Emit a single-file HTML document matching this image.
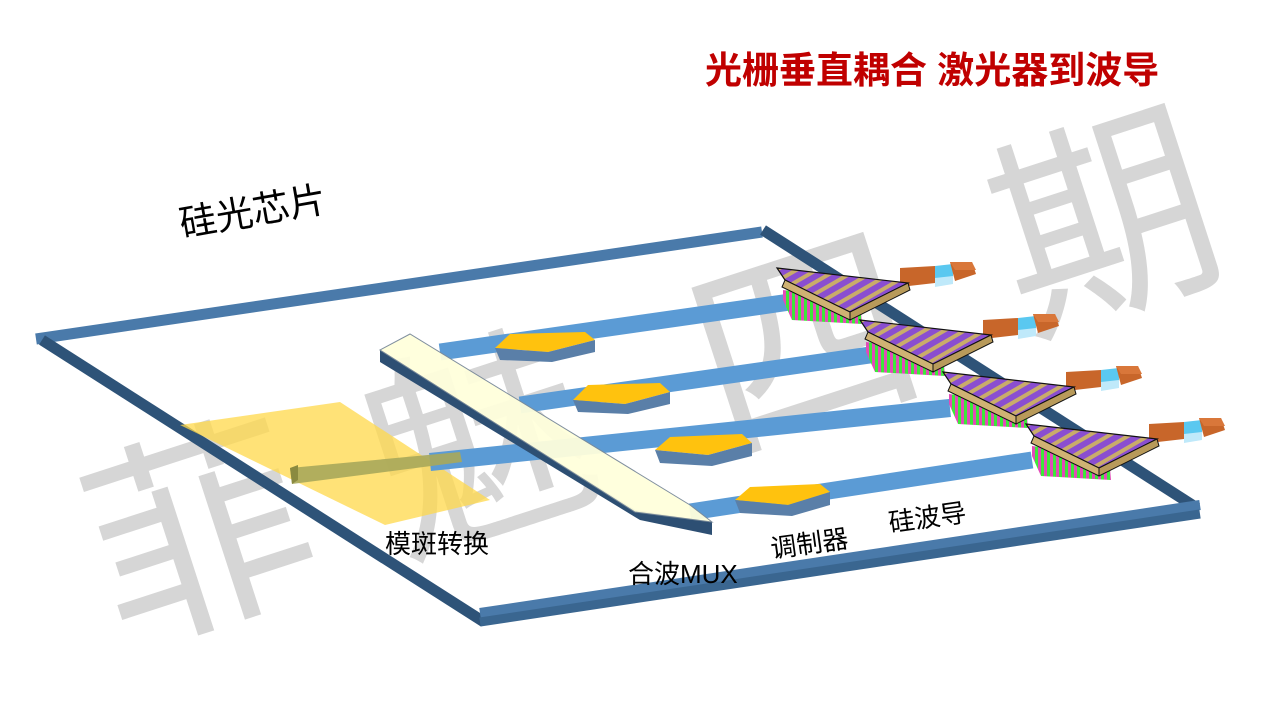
<!DOCTYPE html>
<html><head><meta charset="utf-8"><style>
html,body{margin:0;padding:0;background:#fff;width:1280px;height:720px;overflow:hidden}
svg{display:block}
text{font-family:"Liberation Sans","Noto Sans CJK SC",sans-serif}
</style></head><body>
<svg width="1280" height="720" viewBox="0 0 1280 720" xmlns="http://www.w3.org/2000/svg">
<defs>
<pattern id="stripe" width="6" height="6" patternUnits="userSpaceOnUse"><rect width="6" height="6" fill="#e24bb8"/><rect width="3" height="6" fill="#3de83a"/></pattern>
<pattern id="grate" width="10" height="10" patternUnits="userSpaceOnUse" patternTransform="rotate(60)"><rect width="10" height="10" fill="#8a4ed0"/><rect width="4" height="10" fill="#c9ac6a"/></pattern>
<g id="unit">
  <polygon points="783,290 860,300 862,324 792,320 783,300" fill="url(#stripe)"/>
  <polygon points="900,268 935,266 935,283 900,287" fill="#c8662a"/>
  <polygon points="935,266 953,264 953,280 935,283" fill="#5ac8f0"/>
  <polygon points="935,278 953,276 953,284 935,287" fill="#bfe9fa"/>
  <polygon points="950,262 972,262 976,274 955,281" fill="#c8662a"/>
  <polygon points="950,262 972,262 976,270 955,270" fill="#d9773a"/>
  <polygon points="777,268 908,283 850,312 785,280" fill="url(#grate)" stroke="#111" stroke-width="1.2"/>
  <polygon points="785,280 850,312 850,320 782,287" fill="#cfb273" stroke="#111" stroke-width="1"/>
  <polygon points="908,283 910,290 850,320 850,312" fill="#b89a5a" stroke="#111" stroke-width="1"/>
</g>
</defs>
<!-- watermark -->
<g fill="#d6d6d6" font-size="220" font-family="Liberation Sans,Noto Sans CJK SC,sans-serif">
<text x="85" y="615" transform="rotate(-18 190 520)">菲</text>
<text x="365" y="525" transform="rotate(-18 470 430)">魅</text>
<text x="690" y="425" transform="rotate(-18 790 330)">四</text>
<text x="990" y="305" transform="rotate(-18 1090 210)">期</text>
</g>
<!-- frame -->
<line x1="36" y1="339" x2="762" y2="232" stroke="#4a7aaa" stroke-width="11"/>
<line x1="42" y1="340" x2="484" y2="622" stroke="#2e5378" stroke-width="11"/>
<line x1="763" y1="230" x2="1197" y2="508" stroke="#2e5378" stroke-width="11"/>
<line x1="480" y1="613" x2="1200" y2="505" stroke="#4a7aaa" stroke-width="10"/>
<line x1="480" y1="622" x2="1200" y2="514" stroke="#3a6690" stroke-width="9"/>
<!-- mode converter -->
<polygon points="180,425 340,402 490,500 385,525" fill="#ffd84a" opacity="0.75"/>
<!-- waveguides -->
<g stroke-linecap="butt">
<line x1="440" y1="352" x2="790" y2="302" stroke="#5b9bd5" stroke-width="17"/>
<line x1="520" y1="405" x2="870" y2="355" stroke="#5b9bd5" stroke-width="17"/>
<line x1="430" y1="462" x2="950" y2="408" stroke="#5b9bd5" stroke-width="18"/>
<line x1="690" y1="512" x2="1032" y2="460" stroke="#5b9bd5" stroke-width="17"/>
</g>
<polygon points="290,468 460,452 462,462 292,484" fill="#a8a85a" opacity="0.9"/>
<polygon points="290,468 298,465 298,480 292,484" fill="#8a8a40"/>
<!-- modulators -->
<g>
<polygon points="495,348 510,334 585,332 595,340 548,352" fill="#ffc20e"/><polygon points="495,348 548,352 595,340 595,352 552,362 500,360" fill="#5a7fa8"/>
<polygon points="573,400 588,385 660,383 670,392 625,404" fill="#ffc20e"/><polygon points="573,400 625,404 670,392 670,404 628,414 578,412" fill="#5a7fa8"/>
<polygon points="655,450 670,437 742,434 752,443 708,455" fill="#ffc20e"/><polygon points="655,450 708,455 752,443 752,456 712,466 660,463" fill="#5a7fa8"/>
<polygon points="735,500 750,487 820,484 830,492 788,505" fill="#ffc20e"/><polygon points="735,500 788,505 830,492 830,505 792,516 740,513" fill="#5a7fa8"/>
</g>
<!-- MUX -->
<polygon points="380,350 380,362 640,520 712,535 712,522 635,510" fill="#2d4f73"/>
<polygon points="380,350 410,334 690,505 712,522 635,512" fill="#ffffdc" stroke="#7a8a9a" stroke-width="1" opacity="0.95"/>
<!-- gratings/lasers -->
<use href="#unit"/>
<use href="#unit" transform="translate(83,52)"/>
<use href="#unit" transform="translate(166,104)"/>
<use href="#unit" transform="translate(249,156)"/>
<!-- labels -->
<text x="705" y="83" font-size="37" font-weight="bold" fill="#c00000">光栅垂直耦合 激光器到波导</text>
<text x="182" y="237" font-size="37" fill="#000" transform="rotate(-10 182 237)">硅光芯片</text>
<text x="385" y="553" font-size="26" fill="#000">模斑转换</text>
<text x="628" y="583" font-size="26" fill="#000">合波MUX</text>
<text x="772" y="558" font-size="26" fill="#000" transform="rotate(-8 772 558)">调制器</text>
<text x="890" y="532" font-size="26" fill="#000" transform="rotate(-8 890 532)">硅波导</text>
</svg>
</body></html>
